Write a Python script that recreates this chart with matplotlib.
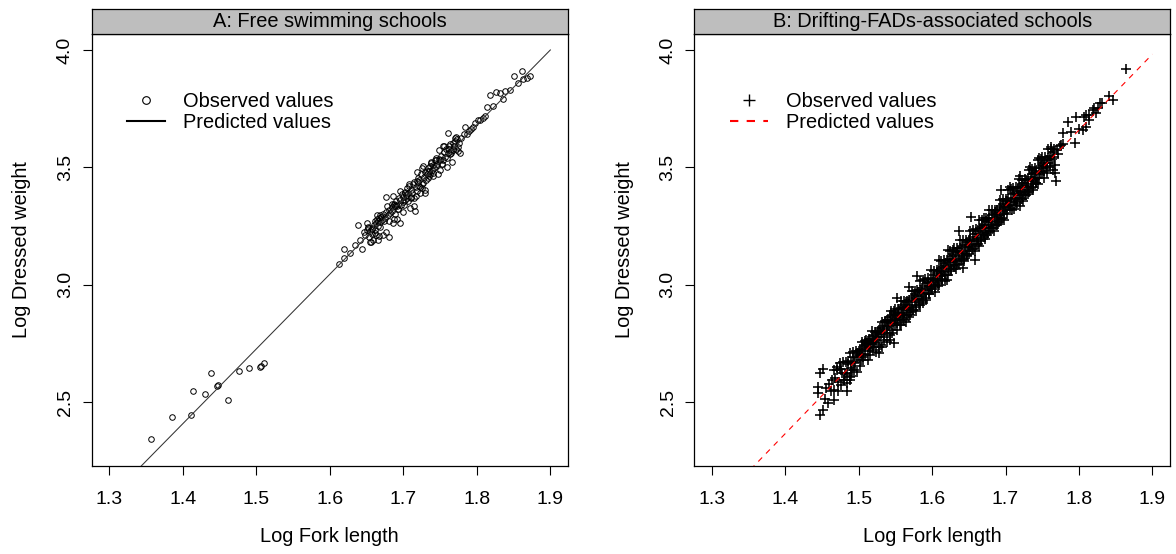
import numpy as np
import matplotlib
matplotlib.use("Agg")
import matplotlib.pyplot as plt
from matplotlib.lines import Line2D
from matplotlib.legend_handler import HandlerLine2D

# ---------------- data ----------------
titles = ["A: Free swimming schools", "B: Drifting-FADs-associated schools"]
x_label = "Log Fork length"
y_label = "Log Dressed weight"
x_ticks = [1.3, 1.4, 1.5, 1.6, 1.7, 1.8, 1.9]
x_tick_labels = ["1.3", "1.4", "1.5", "1.6", "1.7", "1.8", "1.9"]
y_ticks = [2.5, 3.0, 3.5, 4.0]
y_tick_labels = ["2.5", "3.0", "3.5", "4.0"]
legend_labels = ["Observed values", "Predicted values"]

# Panel A: observed (free swimming schools)
obsA_x = [1.357, 1.385, 1.411, 1.414, 1.431, 1.438, 1.447, 1.448, 1.462, 1.476, 1.490, 1.505, 1.506, 1.510,
          1.613, 1.619, 1.619, 1.634, 1.638, 1.644, 1.627, 1.641,
          1.646, 1.650, 1.654, 1.659, 1.665, 1.657, 1.661, 1.664, 1.668, 1.648, 1.652, 1.655, 1.658, 1.660,
          1.662, 1.663, 1.665, 1.666, 1.667, 1.669, 1.651, 1.656, 1.663, 1.668, 1.670,
          1.673, 1.681, 1.676, 1.676, 1.686, 1.686, 1.695, 1.691, 1.689, 1.696, 1.700, 1.671, 1.673, 1.675,
          1.677, 1.679, 1.680, 1.682, 1.684, 1.685, 1.687, 1.688, 1.689, 1.690, 1.692, 1.693, 1.694, 1.697,
          1.698, 1.699,
          1.709, 1.716, 1.715, 1.723, 1.730, 1.727, 1.718, 1.727, 1.741, 1.750,
          1.701, 1.702, 1.703, 1.704, 1.705, 1.706, 1.707, 1.708, 1.710, 1.711,
          1.712, 1.713, 1.714, 1.717, 1.718, 1.719, 1.720, 1.721, 1.722, 1.724,
          1.725, 1.726, 1.728, 1.729, 1.731, 1.732, 1.733, 1.734, 1.735, 1.736,
          1.737, 1.738, 1.739, 1.740, 1.742, 1.743, 1.744, 1.745, 1.746, 1.748,
          1.754, 1.761, 1.768, 1.775, 1.777, 1.766, 1.749, 1.754,
          1.751, 1.753, 1.756, 1.757, 1.758, 1.759, 1.762, 1.763, 1.764, 1.765, 1.767, 1.769, 1.771, 1.772,
          1.773, 1.776, 1.779,
          1.784, 1.786, 1.761, 1.772, 1.795, 1.801, 1.809, 1.814, 1.818, 1.782, 1.789, 1.792, 1.798, 1.805,
          1.811,
          1.826, 1.832, 1.838, 1.851, 1.862, 1.863, 1.873, 1.822, 1.835, 1.845, 1.856, 1.868,
          1.652, 1.655, 1.658, 1.661, 1.664, 1.667, 1.670, 1.674, 1.678, 1.681,
          1.684, 1.687, 1.690, 1.693, 1.696, 1.699, 1.702, 1.705, 1.708, 1.711,
          1.714, 1.717, 1.720, 1.723, 1.726, 1.729, 1.732, 1.735, 1.738, 1.741,
          1.744, 1.747, 1.750, 1.753, 1.756, 1.759, 1.762, 1.765, 1.770, 1.774]
obsA_y = [2.341, 2.435, 2.445, 2.548, 2.535, 2.622, 2.569, 2.571, 2.509, 2.631, 2.644, 2.649, 2.652, 2.668,
          3.087, 3.112, 3.152, 3.169, 3.256, 3.152, 3.135, 3.190,
          3.225, 3.233, 3.205, 3.190, 3.188, 3.215, 3.269, 3.278, 3.297, 3.210, 3.245, 3.228, 3.240, 3.252,
          3.232, 3.262, 3.270, 3.248, 3.283, 3.265, 3.262, 3.180, 3.210, 3.245, 3.290,
          3.211, 3.205, 3.225, 3.373, 3.378, 3.262, 3.264, 3.281, 3.333, 3.361, 3.375, 3.275, 3.300, 3.285,
          3.310, 3.295, 3.320, 3.305, 3.330, 3.315, 3.340, 3.345, 3.300, 3.355, 3.335, 3.322, 3.370, 3.340,
          3.385, 3.350,
          3.326, 3.314, 3.333, 3.392, 3.392, 3.432, 3.482, 3.506, 3.475, 3.489,
          3.340, 3.395, 3.360, 3.380, 3.410, 3.355, 3.392, 3.420, 3.375, 3.405,
          3.390, 3.430, 3.370, 3.415, 3.440, 3.400, 3.455, 3.420, 3.445, 3.470,
          3.430, 3.410, 3.460, 3.480, 3.445, 3.470, 3.495, 3.455, 3.485, 3.505,
          3.470, 3.520, 3.490, 3.510, 3.495, 3.530, 3.505, 3.540, 3.515, 3.535,
          3.532, 3.560, 3.574, 3.588, 3.560, 3.524, 3.574, 3.591,
          3.550, 3.515, 3.565, 3.545, 3.580, 3.540, 3.590, 3.555, 3.600, 3.570, 3.605, 3.590, 3.610, 3.580,
          3.620, 3.605, 3.625,
          3.673, 3.642, 3.648, 3.628, 3.673, 3.702, 3.708, 3.756, 3.809, 3.640, 3.655, 3.665, 3.690, 3.700,
          3.720,
          3.821, 3.818, 3.827, 3.887, 3.911, 3.875, 3.890, 3.760, 3.790, 3.830, 3.860, 3.882,
          3.240, 3.180, 3.239, 3.219, 3.298, 3.208, 3.287, 3.270, 3.333, 3.272,
          3.342, 3.281, 3.341, 3.321, 3.400, 3.310, 3.389, 3.369, 3.428, 3.368,
          3.438, 3.377, 3.437, 3.416, 3.496, 3.405, 3.485, 3.464, 3.524, 3.464,
          3.533, 3.473, 3.532, 3.512, 3.591, 3.501, 3.580, 3.560, 3.626, 3.569]

# Panel A: predicted line (end points)
predA_x = [1.30, 1.90]
predA_y = [2.088, 4.000]

# Panel B: observed (drifting-FADs-associated schools)
obsB_x = [1.4448, 1.4448, 1.4479, 1.4515, 1.4479, 1.4515, 1.4547, 1.4578, 1.4660, 1.4660, 1.4637, 1.4669,
          1.4705, 1.4750, 1.4773, 1.4795, 1.4841, 1.4841, 1.4877, 1.4909, 1.4900, 1.4886, 1.4977, 1.4931,
          1.456, 1.459, 1.462, 1.468, 1.472, 1.476, 1.481, 1.485, 1.489, 1.492, 1.495, 1.498,
          1.5022, 1.5067, 1.5045, 1.5113, 1.5157, 1.5180, 1.5225, 1.5248, 1.5270, 1.5316, 1.5338, 1.5384,
          1.5429, 1.5474, 1.5452,
          1.501, 1.503, 1.505, 1.506, 1.508, 1.509, 1.510, 1.512, 1.513, 1.514,
          1.516, 1.517, 1.519, 1.520, 1.521, 1.523, 1.524, 1.526, 1.527, 1.529,
          1.530, 1.532, 1.533, 1.535, 1.536, 1.538, 1.539, 1.541, 1.542, 1.544,
          1.545, 1.547, 1.548, 1.549, 1.550,
          1.552, 1.568, 1.580, 1.588,
          1.551, 1.552, 1.553, 1.554, 1.555, 1.556, 1.557, 1.558, 1.559, 1.560,
          1.561, 1.562, 1.563, 1.564, 1.565, 1.566, 1.567, 1.569, 1.570, 1.571,
          1.572, 1.573, 1.574, 1.575, 1.576, 1.577, 1.578, 1.579, 1.581, 1.582,
          1.583, 1.584, 1.585, 1.586, 1.587, 1.589, 1.590, 1.591, 1.592, 1.593,
          1.594, 1.595, 1.596, 1.597, 1.598, 1.599,
          1.604, 1.610, 1.620, 1.622, 1.637, 1.642,
          1.601, 1.602, 1.603, 1.605, 1.606, 1.607, 1.608, 1.609, 1.611, 1.612,
          1.613, 1.614, 1.615, 1.616, 1.617, 1.618, 1.619, 1.621, 1.623, 1.624,
          1.625, 1.626, 1.627, 1.628, 1.629, 1.630, 1.631, 1.632, 1.633, 1.634,
          1.635, 1.636, 1.638, 1.639, 1.640, 1.641, 1.643, 1.644, 1.645, 1.646,
          1.647, 1.648, 1.649, 1.650,
          1.653, 1.658,
          1.651, 1.652, 1.654, 1.655, 1.656, 1.657, 1.659, 1.660, 1.661, 1.662,
          1.663, 1.664, 1.665, 1.666, 1.667, 1.668, 1.669, 1.670, 1.671, 1.672,
          1.673, 1.674, 1.675, 1.676, 1.677, 1.678, 1.679, 1.680, 1.681, 1.682,
          1.683, 1.684, 1.685, 1.686, 1.687, 1.688, 1.689, 1.690, 1.691, 1.692,
          1.693, 1.694, 1.694, 1.695, 1.696, 1.697, 1.698, 1.699, 1.700,
          1.706, 1.719, 1.719, 1.733, 1.742, 1.746,
          1.701, 1.702, 1.703, 1.704, 1.705, 1.707, 1.708, 1.709, 1.710, 1.711,
          1.712, 1.713, 1.714, 1.715, 1.716, 1.717, 1.718, 1.720, 1.721, 1.722,
          1.723, 1.724, 1.725, 1.726, 1.727, 1.728, 1.729, 1.730, 1.731, 1.732,
          1.734, 1.735, 1.736, 1.737, 1.738, 1.739, 1.740, 1.741, 1.743, 1.744,
          1.745, 1.747, 1.748, 1.749,
          1.768, 1.769, 1.755, 1.762,
          1.751, 1.752, 1.753, 1.756, 1.757, 1.758, 1.760, 1.761, 1.763, 1.765,
          1.766, 1.770, 1.772, 1.774, 1.776, 1.778,
          1.778, 1.785, 1.789, 1.794, 1.796, 1.800, 1.805, 1.807, 1.810, 1.810,
          1.814, 1.814, 1.819, 1.821, 1.823, 1.826, 1.828, 1.832, 1.841, 1.846,
          1.864,
          1.470, 1.472, 1.474, 1.476, 1.478, 1.480, 1.482, 1.484, 1.486, 1.488,
          1.490, 1.492, 1.494, 1.496, 1.498, 1.500, 1.502, 1.504, 1.506, 1.508,
          1.510, 1.512, 1.514, 1.516, 1.518, 1.520, 1.522, 1.524, 1.526, 1.528,
          1.530, 1.532, 1.534, 1.536, 1.538, 1.540, 1.542, 1.544, 1.546, 1.548,
          1.550, 1.552, 1.554, 1.556, 1.558, 1.560, 1.562, 1.564, 1.566, 1.568,
          1.570, 1.572, 1.574, 1.576, 1.578, 1.580, 1.582, 1.584, 1.586, 1.588,
          1.590, 1.592, 1.594, 1.596, 1.598, 1.600, 1.602, 1.604, 1.606, 1.608,
          1.610, 1.612, 1.614, 1.616, 1.618, 1.620, 1.622, 1.624, 1.626, 1.628,
          1.630, 1.632, 1.634, 1.636, 1.638, 1.640, 1.642, 1.644, 1.646, 1.648,
          1.650, 1.652, 1.654, 1.656, 1.658, 1.660, 1.662, 1.664, 1.666, 1.668,
          1.670, 1.672, 1.674, 1.676, 1.678, 1.680, 1.682, 1.684, 1.686, 1.688,
          1.690, 1.692, 1.694, 1.696, 1.698, 1.700, 1.702, 1.704, 1.706, 1.708,
          1.710, 1.712, 1.714, 1.716, 1.718, 1.720, 1.722, 1.724, 1.726, 1.728,
          1.730, 1.732, 1.734, 1.736, 1.738, 1.740, 1.742, 1.744, 1.746, 1.748,
          1.750, 1.752, 1.754, 1.756, 1.758, 1.760, 1.762, 1.764, 1.766, 1.768]
obsB_y = [2.563, 2.537, 2.622, 2.639, 2.445, 2.466, 2.512, 2.497, 2.509, 2.551, 2.594, 2.636,
          2.650, 2.665, 2.622, 2.594, 2.548, 2.622, 2.594, 2.636, 2.672, 2.708, 2.693, 2.665,
          2.560, 2.575, 2.548, 2.600, 2.585, 2.640, 2.620, 2.660, 2.645, 2.690, 2.670, 2.710,
          2.722, 2.743, 2.700, 2.750, 2.729, 2.764, 2.750, 2.778, 2.708, 2.736, 2.778, 2.793,
          2.764, 2.750, 2.793,
          2.700, 2.680, 2.725, 2.690, 2.735, 2.705, 2.745, 2.715, 2.760, 2.735,
          2.770, 2.745, 2.735, 2.780, 2.755, 2.790, 2.765, 2.800, 2.775, 2.815,
          2.790, 2.800, 2.825, 2.805, 2.840, 2.815, 2.850, 2.825, 2.860, 2.835,
          2.870, 2.845, 2.880, 2.855, 2.830,
          2.942, 2.991, 3.038, 2.921,
          2.870, 2.835, 2.880, 2.850, 2.895, 2.860, 2.830, 2.900, 2.870, 2.905,
          2.880, 2.850, 2.915, 2.890, 2.925, 2.870, 2.905, 2.935, 2.900, 2.885,
          2.945, 2.915, 2.890, 2.950, 2.925, 2.960, 2.905, 2.940, 2.970, 2.935,
          2.915, 2.975, 2.950, 2.985, 2.930, 2.965, 2.995, 2.960, 2.945, 3.005,
          2.975, 3.010, 2.960, 2.995, 3.020, 2.985,
          2.991, 3.105, 3.020, 3.148, 3.230, 3.070,
          3.025, 3.000, 3.040, 3.015, 3.050, 3.030, 3.005, 3.060, 3.035, 3.070,
          3.045, 3.020, 3.080, 3.055, 3.090, 3.040, 3.075, 3.100, 3.065, 3.110,
          3.085, 3.060, 3.120, 3.095, 3.130, 3.075, 3.110, 3.140, 3.100, 3.085,
          3.145, 3.120, 3.155, 3.105, 3.135, 3.165, 3.130, 3.110, 3.170, 3.145,
          3.180, 3.125, 3.160, 3.190,
          3.287, 3.105,
          3.160, 3.195, 3.170, 3.205, 3.150, 3.185, 3.215, 3.175, 3.200, 3.230,
          3.190, 3.165, 3.240, 3.210, 3.185, 3.250, 3.220, 3.255, 3.205, 3.240,
          3.270, 3.230, 3.210, 3.275, 3.245, 3.285, 3.230, 3.265, 3.295, 3.255,
          3.240, 3.300, 3.270, 3.310, 3.255, 3.290, 3.320, 3.280, 3.265, 3.325,
          3.295, 3.335, 3.404, 3.285, 3.315, 3.345, 3.305, 3.330, 3.355,
          3.418, 3.333, 3.463, 3.503, 3.432, 3.539,
          3.320, 3.355, 3.335, 3.365, 3.340, 3.370, 3.350, 3.320, 3.385, 3.355,
          3.390, 3.365, 3.340, 3.400, 3.370, 3.410, 3.380, 3.415, 3.390, 3.365,
          3.425, 3.395, 3.435, 3.405, 3.380, 3.445, 3.415, 3.450, 3.420, 3.395,
          3.460, 3.430, 3.470, 3.440, 3.415, 3.475, 3.450, 3.485, 3.455, 3.430,
          3.495, 3.470, 3.505, 3.480,
          3.475, 3.443, 3.496, 3.588,
          3.510, 3.485, 3.520, 3.530, 3.505, 3.540, 3.520, 3.550, 3.535, 3.565,
          3.545, 3.575, 3.555, 3.590, 3.596, 3.600,
          3.645, 3.695, 3.652, 3.603, 3.716, 3.665, 3.659, 3.716, 3.673, 3.723,
          3.723, 3.702, 3.745, 3.752, 3.731, 3.752, 3.773, 3.773, 3.804, 3.787,
          3.918,
          2.637, 2.548, 2.639, 2.571, 2.672, 2.594, 2.670, 2.582, 2.673, 2.605,
          2.611, 2.713, 2.634, 2.716, 2.627, 2.719, 2.655, 2.757, 2.678, 2.759,
          2.766, 2.677, 2.769, 2.700, 2.802, 2.723, 2.800, 2.711, 2.803, 2.734,
          2.741, 2.842, 2.764, 2.845, 2.757, 2.848, 2.784, 2.886, 2.807, 2.889,
          2.895, 2.807, 2.898, 2.830, 2.931, 2.853, 2.929, 2.841, 2.932, 2.864,
          2.870, 2.972, 2.893, 2.974, 2.886, 2.977, 2.914, 3.015, 2.937, 3.018,
          3.025, 2.936, 3.028, 2.959, 3.061, 2.982, 3.059, 2.970, 3.062, 2.993,
          2.999, 3.101, 3.022, 3.104, 3.015, 3.107, 3.043, 3.145, 3.066, 3.148,
          3.154, 3.066, 3.157, 3.089, 3.190, 3.112, 3.188, 3.099, 3.191, 3.122,
          3.129, 3.230, 3.152, 3.233, 3.145, 3.236, 3.173, 3.274, 3.196, 3.277,
          3.284, 3.195, 3.286, 3.218, 3.319, 3.241, 3.317, 3.229, 3.320, 3.252,
          3.258, 3.360, 3.281, 3.363, 3.274, 3.366, 3.302, 3.403, 3.325, 3.406,
          3.413, 3.324, 3.416, 3.347, 3.449, 3.370, 3.447, 3.358, 3.450, 3.381,
          3.388, 3.489, 3.411, 3.492, 3.404, 3.495, 3.431, 3.533, 3.454, 3.536,
          3.542, 3.454, 3.545, 3.477, 3.578, 3.500, 3.576, 3.488, 3.579, 3.511]

# Panel B: predicted line (end points)
predB_x = [1.30, 1.90]
predB_y = [2.042, 3.982]

# ---------------- layout ----------------
plt.rcParams["font.family"] = ["Liberation Sans", "DejaVu Sans"]
W, H = 1176, 554
fig = plt.figure(figsize=(W / 100, H / 100), dpi=100)


def rect(l, t, r, b):
    return [l / W, 1 - b / H, (r - l) / W, (b - t) / H]


class LeftMarkerHandler(HandlerLine2D):
    def get_xdata(self, legend, xdescent, ydescent, width, height, fontsize):
        xdata = np.array([-xdescent, -xdescent + width], float)
        return xdata, np.array([-xdescent + 1.0])


panels = [
    dict(l=91.5, r=568.0, title=titles[0], leg_left=127.0),
    dict(l=694.3, r=1170.0, title=titles[1], leg_left=730.0),
]
top, bottom, strip_top = 34.0, 466.0, 8.7
FS = 14.4
TFS = 14

for i, p in enumerate(panels):
    ax = fig.add_axes(rect(p["l"], top, p["r"], bottom))
    if i == 0:
        ax.plot(obsA_x, obsA_y, linestyle="none", marker="o", mfc="none", mec="black",
                ms=4.0, mew=0.7, zorder=2)
        ax.plot(predA_x, predA_y, color="#333333", lw=0.75, zorder=3)
        h_obs = Line2D([], [], linestyle="none", marker="o", mfc="none", mec="black", ms=5.5, mew=0.8)
        h_pred = Line2D([], [], color="black", lw=1.5)
    else:
        ax.plot(obsB_x, obsB_y, linestyle="none", marker="+", color="black",
                ms=7.5, mew=1.15, zorder=2)
        ax.plot(predB_x, predB_y, color="red", lw=0.8, linestyle=(0, (5, 5)), zorder=3)
        h_obs = Line2D([], [], linestyle="none", marker="+", color="black", ms=9, mew=1.0)
        h_pred = Line2D([], [], color="red", lw=1.5, linestyle=(0, (4, 4)))

    ax.set_xlim(1.276, 1.924)
    ax.set_ylim(2.227, 4.068)
    ax.set_xticks(x_ticks)
    ax.set_xticklabels(x_tick_labels)
    ax.set_yticks(y_ticks)
    ax.set_yticklabels(y_tick_labels, rotation=90, va="center")
    ax.tick_params(axis="both", direction="out", length=6.8, width=0.8, labelsize=TFS, color="black")
    ax.tick_params(axis="x", pad=11.5)
    ax.tick_params(axis="y", pad=6)
    for s in ax.spines.values():
        s.set_linewidth(0.9)
        s.set_color("black")

    ax.legend([h_obs, h_pred], legend_labels, loc="upper left",
              bbox_to_anchor=((p["leg_left"] - p["l"]) / (p["r"] - p["l"]),
                              (bottom - 92) / (bottom - top)),
              frameon=False, fontsize=FS, borderpad=0, borderaxespad=0,
              handlelength=1.9, handletextpad=0.88, labelspacing=0.12,
              handler_map={h_obs: LeftMarkerHandler()})

    # strip header
    sax = fig.add_axes(rect(p["l"], strip_top, p["r"], top))
    sax.set_facecolor("#BEBEBE")
    sax.set_xticks([])
    sax.set_yticks([])
    for s in sax.spines.values():
        s.set_linewidth(0.9)
        s.set_color("black")
    sax.text(0.5, 0.5, p["title"], ha="center", va="center", fontsize=FS, transform=sax.transAxes)

    # axis titles
    cx = (p["l"] + p["r"]) / 2
    fig.text(cx / W, 1 - 537 / H, x_label, ha="center", va="center", fontsize=FS)
    fig.text((p["l"] - 70.0) / W, 1 - 250 / H, y_label, ha="center", va="center",
             rotation=90, fontsize=FS)

fig.savefig("out.png", dpi=100)
